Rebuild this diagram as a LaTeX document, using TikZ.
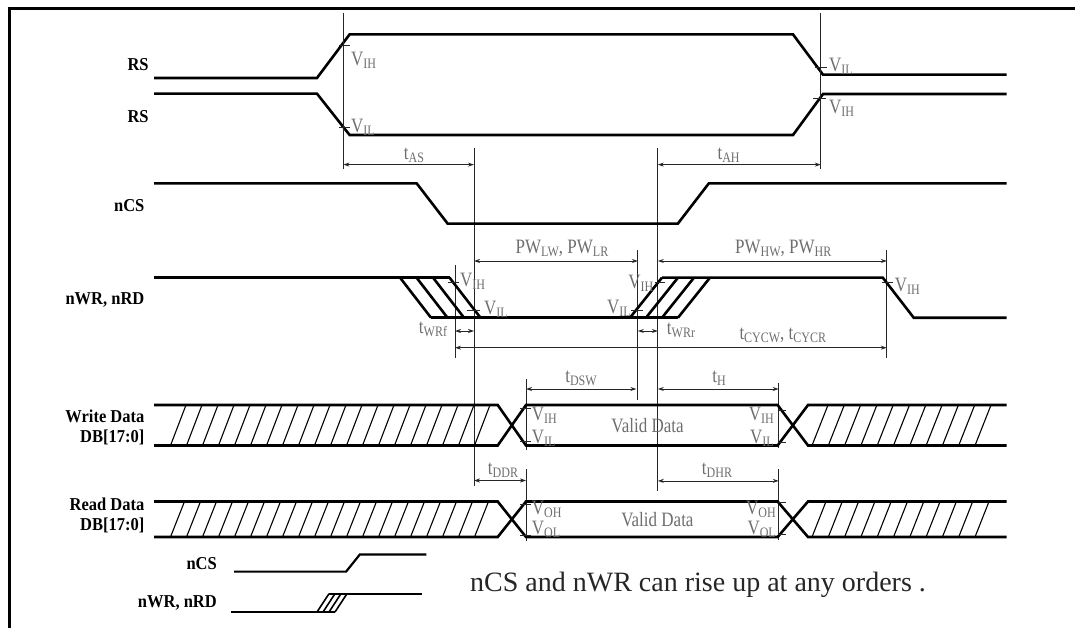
\documentclass[tikz,border=0pt]{standalone}
\usepackage{fontspec}
\setmainfont{Liberation Serif}
\usepackage{graphicx}
\usetikzlibrary{arrows.meta}
\definecolor{labgray}{RGB}{110,110,110}
\newcommand\sx[1]{\scalebox{1}[1.2]{#1}}
\newcommand\bx[1]{\scalebox{1}[1.1]{#1}}
\newcommand\sbs[1]{\raisebox{-2.5pt}{\fontsize{12}{12}\selectfont #1}}
\begin{document}
\begin{tikzpicture}[x=1pt,y=-1pt,
  sig/.style={line width=2.6pt},
  thin/.style={line width=0.9pt,black!85},
  dim/.style={line width=0.8pt,black!85,{Stealth[length=6pt,width=4pt]}-{Stealth[length=6pt,width=4pt]}},
  hatch/.style={line width=1.1pt},
  gl/.style={text=labgray,font=\fontsize{17}{17}\selectfont,inner sep=0pt},
  bl/.style={font=\bfseries\fontsize{16.5}{16.5}\selectfont,inner sep=0pt,anchor=base east},
  tick/.style={line width=0.9pt,black!85}]
\useasboundingbox (0,0) rectangle (1075,628);
% frame
\draw[line width=3pt] (9,628) -- (9,7.5);
\draw[line width=2.2pt] (7.5,8.6) -- (1075,8.6);

% ---------- RS ----------
\draw[sig] (154,78) -- (317,78) -- (349.6,34.4) -- (793,34.4) -- (823,74.7) -- (1006.7,74.7);
\draw[sig] (154,93.7) -- (317,93.7) -- (349.6,135) -- (793,135) -- (823,94) -- (1006.7,94);
\node[bl] (rs1) at (148.8,70.6) {\bx{RS}};
\node[bl] (rs2) at (148.8,122.3) {\bx{RS}};

% verticals
\draw[thin] (343.4,13) -- (343.4,169);
\draw[thin] (820.7,13) -- (820.7,169);
\draw[thin] (474,148) -- (474,486);
\draw[thin] (657.8,148) -- (657.8,491);
\draw[thin] (637.8,250) -- (637.8,400);
\draw[thin] (886.8,250) -- (886.8,358);
\draw[thin] (455,265) -- (455,358);
\draw[thin] (526,379) -- (526,450);
\draw[thin] (526,469) -- (526,541);
\draw[thin] (778.7,382.7) -- (778.7,448);
\draw[thin] (778.7,469) -- (778.7,540);

% RS ticks & labels
\draw[tick] (339,45.8) -- (349.5,45.8);
\draw[tick] (339,127.4) -- (349.5,127.4);
\draw[tick] (815,67.8) -- (827,67.8);
\draw[tick] (813,98.8) -- (826,98.8);
\node[gl,anchor=base west] (vih1) at (351,65.4) {\sx{V\sbs{IH}}};
\node[gl,anchor=base west] (vil1) at (351,132.6) {\sx{V\sbs{IL}}};
\node[gl,anchor=base west] (vil2) at (829,71.6) {\sx{V\sbs{IL}}};
\node[gl,anchor=base west] (vih2) at (829,113.6) {\sx{V\sbs{IH}}};

% tAS / tAH
\draw[dim] (343.4,164.6) -- (474,164.6);
\draw[dim] (657.8,164.6) -- (820.7,164.6);
\node[gl,anchor=base] (tas) at (414,160) {\sx{t\sbs{AS}}};
\node[gl,anchor=base] (tah) at (728.6,160) {\sx{t\sbs{AH}}};

% ---------- nCS ----------
\draw[sig] (154,183.4) -- (416.7,183.4) -- (447.7,223.7) -- (677.8,223.7) -- (708.8,183.4) -- (1006.7,183.4);
\node[bl] (ncs) at (144.6,211.7) {\bx{nCS}};

% ---------- nWR, nRD ----------
\draw[sig] (154,277.6) -- (449.5,277.6);
\foreach \k in {0,1,2,3} \draw[sig] ({400+16.5*\k},277.6) -- ++(31,40.1);
\draw[sig] (431,317.7) -- (678,317.7);
\foreach \k in {0,1,2,3} \draw[sig] ({630+16*\k},317.7) -- ++(32,-40.1);
\draw[sig] (662,277.6) -- (882.7,277.6) -- (913.7,317.7) -- (1006.7,317.7);
\node[bl] (nwr) at (144.6,304.6) {\bx{nWR, nRD}};

\draw[tick] (447.7,282) -- (459,282);
\draw[tick] (466.7,310.5) -- (480,310.5);
\draw[tick] (655,282) -- (665,282);
\draw[tick] (631,310.5) -- (643,310.5);
\draw[tick] (882,282) -- (893,282);
\node[gl,anchor=base west] (vih3) at (460,286.7) {\sx{V\sbs{IH}}};
\node[gl,anchor=base west] (vil3) at (484,314) {\sx{V\sbs{IL}}};
\node[gl,anchor=base east] (vih4) at (653.6,288) {\sx{V\sbs{IH}}};
\node[gl,anchor=base east] (vil4) at (631,313) {\sx{V\sbs{IL}}};
\node[gl,anchor=base west] (vih5) at (894.7,291) {\sx{V\sbs{IH}}};

% PW, tWR, tCYC
\draw[dim] (474,261) -- (637.8,261);
\draw[dim] (657.8,261) -- (886.8,261);
\node[gl,anchor=base] (pwl) at (562,253.7) {\sx{PW\sbs{LW}, PW\sbs{LR}}};
\node[gl,anchor=base] (pwh) at (783.3,253.7) {\sx{PW\sbs{HW}, PW\sbs{HR}}};
\draw[dim] (455,331) -- (474,331);
\draw[dim] (637.8,331) -- (657.8,331);
\node[gl,anchor=base] (twrf) at (433,333) {\sx{t\sbs{WRf}}};
\node[gl,anchor=base] (twrr) at (681,334) {\sx{t\sbs{WRr}}};
\draw[dim] (455,347.7) -- (886.8,347.7);
\node[gl,anchor=base] (tcyc) at (782.8,339) {\sx{t\sbs{CYCW}, t\sbs{CYCR}}};

% ---------- Write Data ----------
\draw[sig] (154,405) -- (497.7,405) -- (526,445.5) -- (777.6,445.5) -- (808,405) -- (1006.7,405);
\draw[sig] (154,445.5) -- (497.7,445.5) -- (526,405) -- (777.6,405) -- (808,445.5) -- (1006.7,445.5);
\foreach \k in {0,...,19} \draw[hatch] ({170.5+16*\k},445.5) -- ++(15.5,-40.5);
\foreach \k in {0,...,10} \draw[hatch] ({812+16.3*\k},445.5) -- ++(16,-40.5);
\node[bl] (wd1) at (144.6,422.5) {\bx{Write Data}};
\node[bl] (wd2) at (144.6,442) {\bx{DB[17:0]}};
\draw[tick] (520,408.3) -- (531,408.3);
\draw[tick] (520,441) -- (531,441);
\draw[tick] (777.6,410.3) -- (786,410.3);
\draw[tick] (777.6,442) -- (786,442);
\node[gl,anchor=base west] (vih6) at (531.7,420.6) {\sx{V\sbs{IH}}};
\node[gl,anchor=base west] (vil6) at (531.7,443) {\sx{V\sbs{IL}}};
\node[gl,anchor=base east] (vih7) at (774,420.6) {\sx{V\sbs{IH}}};
\node[gl,anchor=base east] (vil7) at (774,443) {\sx{V\sbs{IL}}};
\node[gl,anchor=base] (vd1) at (647.6,432.6) {\sx{Valid Data}};
\draw[dim] (526,389) -- (636.4,389);
\draw[dim] (657.8,389) -- (778.7,389);
\node[gl,anchor=base] (tdsw) at (581,382) {\sx{t\sbs{DSW}}};
\node[gl,anchor=base] (th) at (719,382) {\sx{t\sbs{H}}};

% ---------- Read Data ----------
\draw[dim] (474,480.5) -- (526,480.5);
\draw[dim] (657.8,480.9) -- (778.7,480.9);
\node[gl,anchor=base] (tddr) at (503,474) {\sx{t\sbs{DDR}}};
\node[gl,anchor=base] (tdhr) at (717,474) {\sx{t\sbs{DHR}}};
\draw[sig] (154,501.5) -- (497.7,501.5) -- (526,537) -- (777.6,537) -- (808,501.5) -- (1006.7,501.5);
\draw[sig] (154,537) -- (497.7,537) -- (526,501.5) -- (777.6,501.5) -- (808,537) -- (1006.7,537);
\foreach \k in {0,...,19} \draw[hatch] ({170.5+16*\k},537) -- ++(14,-35.5);
\foreach \k in {0,...,10} \draw[hatch] ({812+16.3*\k},537) -- ++(14,-35.5);
\node[bl] (rd1) at (144.6,510.5) {\bx{Read Data}};
\node[bl] (rd2) at (144.6,530.5) {\bx{DB[17:0]}};
\draw[tick] (520,504) -- (531,504);
\draw[tick] (520,535) -- (531,535);
\draw[tick] (777.6,502.5) -- (786,502.5);
\draw[tick] (777.6,534.5) -- (786,534.5);
\node[gl,anchor=base west] (voh1) at (531.7,514) {\sx{V\sbs{OH}}};
\node[gl,anchor=base west] (vol1) at (531.7,534) {\sx{V\sbs{OL}}};
\node[gl,anchor=base east] (voh2) at (776,514) {\sx{V\sbs{OH}}};
\node[gl,anchor=base east] (vol2) at (776,534) {\sx{V\sbs{OL}}};
\node[gl,anchor=base] (vd2) at (657.4,526) {\sx{Valid Data}};

% ---------- legend ----------
\node[bl] (lcs) at (217,569) {\bx{nCS}};
\draw[line width=2.2pt] (234.2,571.6) -- (346.1,571.6) -- (359.9,554.4) -- (426.4,554.4);
\node[bl] (lwr) at (217,607) {\bx{nWR, nRD}};
\draw[line width=2.2pt] (231.4,612) -- (335,612);
\foreach \k in {0,1,2,3} \draw[line width=1.6pt] ({317+6*\k},612) -- ++(12,-18.3);
\draw[line width=2.2pt] (329,593.7) -- (421.9,593.7);
\node[anchor=base west,inner sep=0pt,font=\fontsize{28}{28}\selectfont,text=black!85] (note) at (470,591)
  {nCS and nWR can rise up at any orders .};
\end{tikzpicture}
\end{document}
